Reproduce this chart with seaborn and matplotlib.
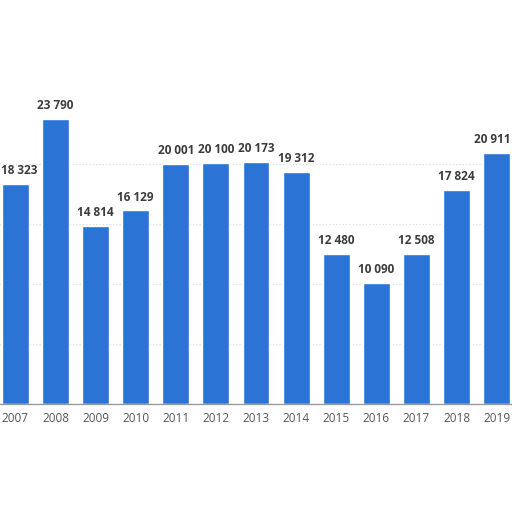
import matplotlib
matplotlib.use("Agg")
import matplotlib.pyplot as plt
import matplotlib.transforms as mtransforms
import seaborn as sns
import pandas as pd

years = ["2007", "2008", "2009", "2010", "2011", "2012", "2013",
         "2014", "2015", "2016", "2017", "2018", "2019"]
values = [18323, 23790, 14814, 16129, 20001, 20100, 20173,
          19312, 12480, 10090, 12508, 17824, 20911]

df = pd.DataFrame({"year": years, "value": values})

sns.set_theme(style="white")
plt.rcParams["font.family"] = ["Open Sans", "DejaVu Sans"]

fig = plt.figure(figsize=(5.12, 5.12), dpi=100)
ax = fig.add_axes([-0.0091, 0.2109, 1.0182, 0.586])

sns.barplot(data=df, x="year", y="value", color="#2b74d6", width=0.67,
            saturation=1, ax=ax)

ax.set_xlim(-0.5, 12.5)
ax.set_ylim(0, 25000)
for yv in [5000, 10000, 15000, 20000]:
    ax.axhline(yv, color="#d8d8d8", lw=0.8, ls=(0, (1, 2)), zorder=0)

edge_tf = mtransforms.blended_transform_factory(fig.transFigure, ax.transData)
n = len(values)
for i, v in enumerate(values):
    lab = f"{v:,}".replace(",", " ")
    kw = dict(textcoords="offset points", xytext=(0, 5), va="bottom",
              fontsize=8.5, fontweight="bold", color="#3c3c3c")
    if i == 0:
        ax.annotate(lab, (0.002, v), xycoords=edge_tf, ha="left", **kw)
    elif i == n - 1:
        ax.annotate(lab, (0.998, v), xycoords=edge_tf, ha="right", **kw)
    else:
        ax.annotate(lab, (i, v), ha="center", **kw)

for s in ["top", "right", "left"]:
    ax.spines[s].set_visible(False)
ax.spines["bottom"].set_color("#9a9a9a")
ax.spines["bottom"].set_linewidth(1)
ax.set_yticks([])
ax.set_xlabel("")
ax.set_ylabel("")
ax.tick_params(axis="x", length=0, pad=6, labelsize=8.5, labelcolor="#555555")

fig.savefig("out.png", dpi=100)
